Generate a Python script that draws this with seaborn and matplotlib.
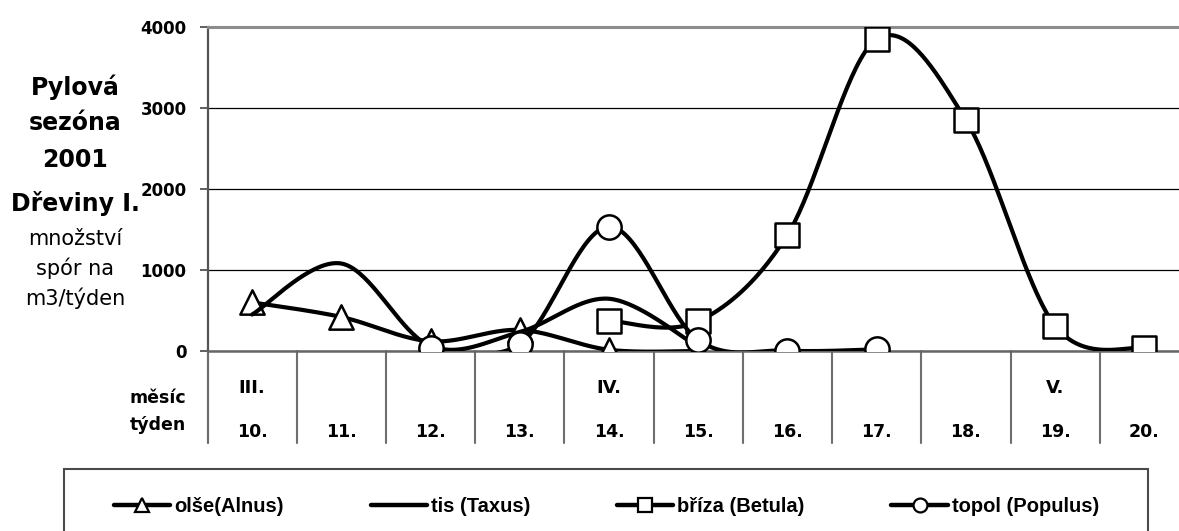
import numpy as np
import pandas as pd
import matplotlib
matplotlib.use("Agg")
import matplotlib.pyplot as plt
import matplotlib.transforms as mtransforms
from matplotlib.lines import Line2D
from matplotlib.patches import Rectangle
from matplotlib.font_manager import FontProperties
import seaborn as sns

# ---- data: weekly pollen counts (grains per m3 per week), season 2001 ----
weeks = ["10.", "11.", "12.", "13.", "14.", "15.", "16.", "17.", "18.", "19.", "20."]
month_marks = {"10.": "III.", "14.": "IV.", "19.": "V."}
nan = np.nan
olse = [600, 420, 120, 260, 15, 0, nan, nan, nan, nan, nan]          # Alnus
tis = [450, 1080, 60, 235, 645, 50, nan, nan, nan, nan, nan]         # Taxus
briza = [nan, nan, nan, nan, 375, 365, 1435, 3850, 2850, 310, 35]    # Betula
topol = [nan, nan, 35, 85, 1535, 135, 5, 20, nan, nan, nan]          # Populus
series_names = ["olše(Alnus)", "tis (Taxus)", "bříza (Betula)", "topol (Populus)"]
yticks = [0, 1000, 2000, 3000, 4000]

W, H = 1179, 531
sns.set_style("white")
plt.rcParams["font.family"] = ["DejaVu Sans"]
plt.rcParams["text.color"] = "black"
plt.rcParams["xtick.color"] = "black"
plt.rcParams["ytick.color"] = "black"
plt.rcParams["axes.labelcolor"] = "black"


def fx(px):
    return px / W


def fy(py):
    return 1 - py / H


def smooth_curve(xs, ys, n=40):
    """Catmull-Rom style Bezier smoothing through the given points."""
    xs = np.asarray(xs, float)
    ys = np.asarray(ys, float)
    px = np.concatenate([[xs[0]], xs, [xs[-1]]])
    py = np.concatenate([[ys[0]], ys, [ys[-1]]])
    t = np.linspace(0, 1, n)[:, None]
    out = []
    for i in range(len(xs) - 1):
        p0 = np.array([px[i], py[i]])
        p1 = np.array([px[i + 1], py[i + 1]])
        p2 = np.array([px[i + 2], py[i + 2]])
        p3 = np.array([px[i + 3], py[i + 3]])
        c1 = p1 + (p2 - p0) / 6.0
        c2 = p2 - (p3 - p1) / 6.0
        seg = ((1 - t) ** 3) * p1 + 3 * ((1 - t) ** 2) * t * c1 \
            + 3 * (1 - t) * t ** 2 * c2 + t ** 3 * p2
        out.append(seg if i == 0 else seg[1:])
    pts = np.vstack(out)
    return pts[:, 0], pts[:, 1]


fig = plt.figure(figsize=(W / 100, H / 100), dpi=100)
ax_left, ax_right, ax_top, ax_bottom = 207.5, 1189, 27, 351
ax = fig.add_axes([fx(ax_left), fy(ax_bottom), fx(ax_right) - fx(ax_left),
                   fy(ax_top) - fy(ax_bottom)])

positions = np.arange(len(weeks))
styles = [
    (olse, "^"),
    (tis, None),
    (briza, "s"),
    (topol, "o"),
]
for k, (vals, marker) in enumerate(styles):
    v = np.asarray(vals, float)
    mask = ~np.isnan(v)
    sx, sy = smooth_curve(positions[mask], v[mask])
    curve = pd.DataFrame({"x": sx, "y": sy})
    sns.lineplot(data=curve, x="x", y="y", sort=False, estimator=None,
                 color="black", lw=3.0, ax=ax, zorder=3 + 2 * k)
    if marker is not None:
        pts = pd.DataFrame({"x": positions[mask], "y": v[mask]})
        sns.scatterplot(data=pts, x="x", y="y", marker=marker, s=17.5 ** 2,
                        color="white", edgecolor="black", linewidth=1.8,
                        ax=ax, zorder=4 + 2 * k)

ax.set_xlim(-0.5, len(weeks) - 0.5)
ax.set_ylim(0, 4000)
ax.set_yticks(yticks)
ax.set_yticklabels([str(t) for t in yticks], fontsize=12, fontweight="bold")
ax.tick_params(axis="y", direction="out", length=6, width=1.2, color="#444444",
               labelcolor="black", pad=9, left=True)
ax.yaxis.grid(True, color="black", lw=0.9)
ax.xaxis.grid(False)
ax.set_xlabel("")
ax.set_ylabel("")

ax.set_xticks(positions)
ax.set_xticklabels(weeks, fontsize=12.5, fontweight="bold")
ax.tick_params(axis="x", length=0, pad=52, labelcolor="black")

ax.spines["right"].set_visible(False)
ax.spines["top"].set_color("#8c8c8c")
ax.spines["top"].set_linewidth(2.2)
ax.spines["left"].set_color("#555555")
ax.spines["left"].set_linewidth(1.6)
ax.spines["bottom"].set_color("#666666")
ax.spines["bottom"].set_linewidth(1.8)

# table under the plot: dividers and month row
table_bottom = -(443 - ax_bottom) / (ax_bottom - ax_top)
blend = mtransforms.blended_transform_factory(ax.transData, ax.transAxes)
for b in np.arange(-0.5, len(weeks) - 0.4, 1.0):
    ax.plot([b, b], [0, table_bottom], transform=blend, color="#6e6e6e",
            lw=1.5 if b > -0.5 else 1.6, clip_on=False, zorder=1)
month_y = -(393 - ax_bottom) / (ax_bottom - ax_top)
for i, w in enumerate(weeks):
    if w in month_marks:
        ax.text(i, month_y, month_marks[w], transform=blend, ha="center",
                va="baseline", fontsize=13, fontweight="bold")

fig.text(fx(186), fy(403), "měsíc", ha="right", va="baseline",
         fontsize=12.5, fontweight="bold")
fig.text(fx(186), fy(430), "týden", ha="right", va="baseline",
         fontsize=12.5, fontweight="bold")

# left-hand title block
for txt, base in [("Pylová", 95), ("sezóna", 130), ("2001", 167),
                  ("Dřeviny I.", 211)]:
    fig.text(fx(75), fy(base), txt, ha="center", va="baseline",
             fontsize=17, fontweight="bold")
for txt, base in [("množství", 245), ("spór na", 275), ("m3/týden", 305)]:
    fig.text(fx(75), fy(base), txt, ha="center", va="baseline", fontsize=15)

# legend
handles = [
    Line2D([], [], color="black", lw=3.2, marker="^", ms=10,
           mfc="white", mec="black", mew=1.6),
    Line2D([], [], color="black", lw=3.2),
    Line2D([], [], color="black", lw=3.2, marker="s", ms=10,
           mfc="white", mec="black", mew=1.6),
    Line2D([], [], color="black", lw=3.2, marker="o", ms=10,
           mfc="white", mec="black", mew=1.6),
]
fig.legend(handles, series_names, loc="center",
           bbox_to_anchor=(fx(606.5), fy(507)), ncol=4, frameon=False,
           prop=FontProperties(family="Liberation Sans", weight="bold",
                               size=14.5),
           handlelength=2.8, handletextpad=0.2, columnspacing=4.3)
fig.patches.append(Rectangle((fx(64), fy(548)), fx(1148) - fx(64),
                             fy(469) - fy(548), transform=fig.transFigure,
                             fill=False, edgecolor="#4a4a4a", lw=1.5))

fig.savefig("out.png", dpi=100)
